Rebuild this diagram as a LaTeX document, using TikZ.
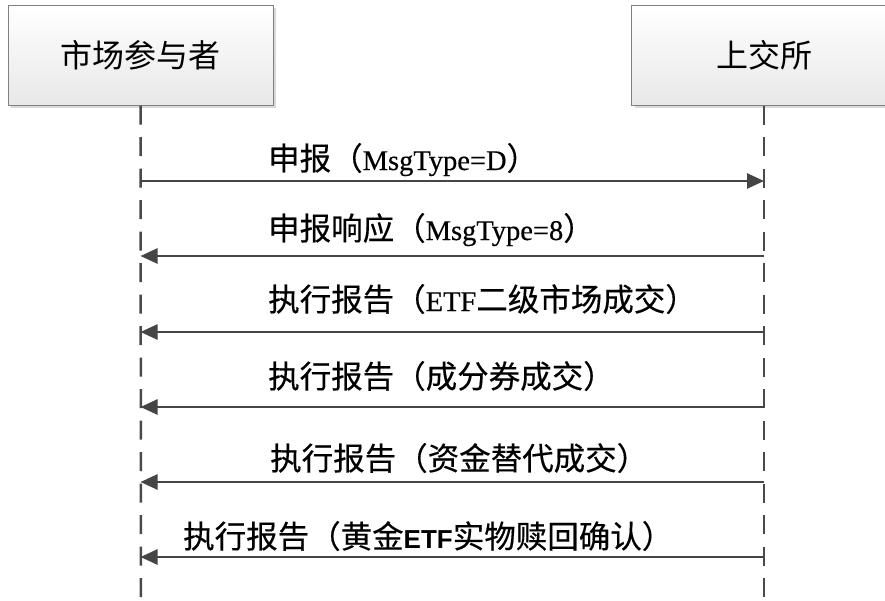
\documentclass[tikz,border=0pt]{standalone}
\usepackage{fontspec}
\setmainfont{Noto Sans CJK SC}[BoldFont=Noto Sans CJK SC, BoldFeatures={FakeBold=0.35}]
\newfontfamily\lserif{Liberation Serif}[FakeBold=0.4]
\newfontfamily\lsans{Liberation Sans}
\usetikzlibrary{arrows.meta,shadows}
\definecolor{linegray}{HTML}{454545}
\definecolor{lifegray}{HTML}{4A4A4A}
\definecolor{boxborder}{HTML}{808080}
\definecolor{boxbottom}{HTML}{E8E8E8}
\definecolor{shadowgray}{HTML}{D9D9D9}
\newcommand{\lat}[1]{{\lserif\mdseries\fontsize{28.5}{34}\selectfont #1}}
\newcommand{\latb}[1]{{\lsans\fontseries{b}\selectfont\fontsize{26}{34}\selectfont #1}}
\begin{document}
\begin{tikzpicture}[x=1pt,y=-1pt,
  actor/.style={draw=boxborder, line width=1pt, minimum width=265pt, minimum height=100pt,
    top color=white, bottom color=boxbottom, inner sep=0pt,
    font=\fontsize{32}{36}\selectfont,
    drop shadow={shadow xshift=3pt, shadow yshift=-3pt, fill=shadowgray, opacity=1}},
  lifeline/.style={draw=lifegray, line width=2.5pt, dash pattern=on 19pt off 12.5pt},
  msg/.style={draw=linegray, line width=2.6pt, -{Triangle[length=17pt,width=15pt]}},
  lbl/.style={anchor=base west, inner sep=0pt, font=\bfseries\fontsize{31.5}{34}\selectfont}]
\useasboundingbox (0,0) rectangle (885,600);
\clip (0,0) rectangle (885,600);
\fill[white] (0,0) rectangle (885,600);
% actors
\node[actor] (mp) at (140.5,55) {市场参与者};
\node[actor] (sse) at (764,55) {上交所};
% lifeline ends
\coordinate (mpend) at (141,600);
\coordinate (sseend) at (764,600);
\draw[lifeline] (mp.south) -- (mpend);
\draw[lifeline] (sse.south) -- (sseend);
% message levels
\coordinate (y1) at (0,181);
\coordinate (y2) at (0,256);
\coordinate (y3) at (0,332);
\coordinate (y4) at (0,407);
\coordinate (y5) at (0,482);
\coordinate (y6) at (0,557);
\draw[msg] (mp.south |- y1) -- (sse.south |- y1);
\draw[msg] (sse.south |- y2) -- (mp.south |- y2);
\draw[msg] (sse.south |- y3) -- (mp.south |- y3);
\draw[msg] (sse.south |- y4) -- (mp.south |- y4);
\draw[msg] (sse.south |- y5) -- (mp.south |- y5);
\draw[msg] (sse.south |- y6) -- (mp.south |- y6);
% labels
\node[lbl] (t1) at (268,170) {申报（\lat{MsgType=D}）};
\node[lbl] (t2) at (268,240) {申报响应（\lat{MsgType=8}）};
\node[lbl] (t3) at (268,311) {执行报告（\lat{ETF}二级市场成交）};
\node[lbl] (t4) at (268,388) {执行报告（成分券成交）};
\node[lbl] (t5) at (270,470) {执行报告（资金替代成交）};
\node[lbl] (t6) at (183,548) {执行报告（黄金\latb{ETF}实物赎回确认）};
\end{tikzpicture}
\end{document}
